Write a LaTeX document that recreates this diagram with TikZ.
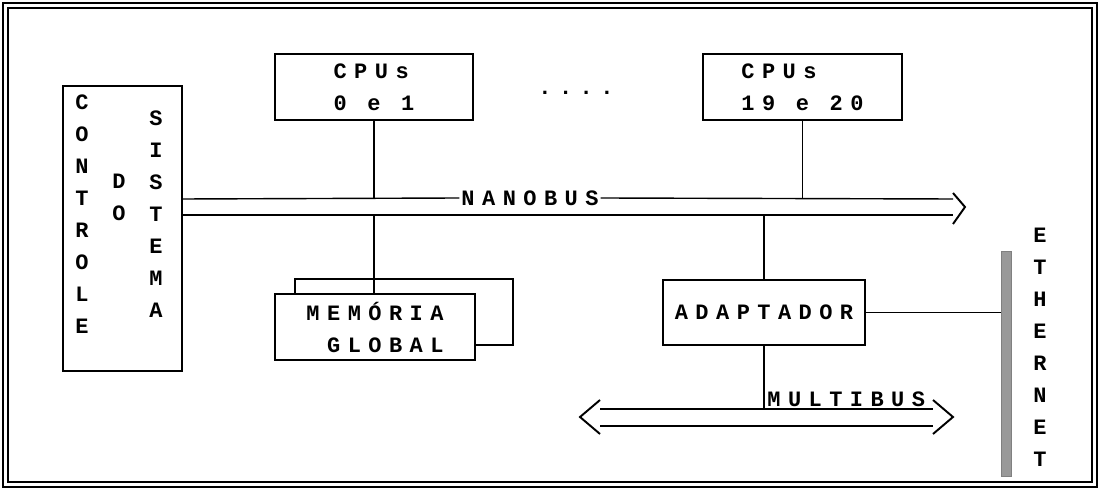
\documentclass[tikz,border=0pt]{standalone}
\usepackage{fontspec}
\newfontfamily\pixfont[LetterSpace=34]{Liberation Mono}
\newcommand\pixtext{\pixfont\bfseries\fontsize{12.5}{18.2}\selectfont}

\begin{document}
\begin{tikzpicture}[
	x=0.02cm, y=-0.02cm,
	box/.style={ draw, line width=0.8pt, fill=white, inner sep=0pt, font=\pixtext },
	column/.style={ align=center, inner sep=0pt, font=\pixtext },
	label/.style={ inner sep=0pt, font=\pixtext },
	bus/.style={ line width=0.8pt },
	chevron/.style={ line width=1.1pt, line join=miter }
]
\useasboundingbox (0,0) rectangle (1101,492);

\draw[line width=0.8pt] (3,3) rectangle (1097,487);
\draw[line width=0.8pt] (8,8) rectangle (1092,482);

\node at (122.5,228.5) (ctrl) [box, minimum width=2.38cm, minimum height=5.7cm] {};
\node at (82,214) (controle) [column] {C\\O\\N\\T\\R\\O\\L\\E};
\node at (119,197) (do) [column] {D\\O};
\node at (156,214) (sistema) [column] {S\\I\\S\\T\\E\\M\\A};

\node at (374,87) (cpuA) [box, align=left, minimum width=3.96cm, minimum height=1.32cm] {CPUs\\0 e 1};
\node at (802.5,87) (cpuB) [box, align=left, minimum width=3.98cm, minimum height=1.32cm] {CPUs\\19 e 20};
\node at (576,93) (dots) [label] {....};

\coordinate (nanoT) at (953,199);
\coordinate (nanoB) at (953,215);
\node at (530,198) (nano) [label, inner xsep=1pt] {NANOBUS};
\draw[bus] (ctrl.east |- nanoT) -- (nano.west);
\draw[bus] (nano.east) -- (nanoT);
\draw[bus] (ctrl.east |- nanoB) -- (nanoB);
\draw[chevron] (953,193) -- (965,207) -- (953,224);

\draw[bus] (cpuA.south) -- (cpuA.south |- nanoT);
\draw[bus] (cpuB.south) -- (cpuB.south |- nanoT);

\node at (404,312) (memback) [box, minimum width=4.36cm, minimum height=1.32cm] {};
\node at (375,327) (mem) [box, align=right, minimum width=4cm, minimum height=1.32cm] {MEMÓRIA\\GLOBAL};
\draw[bus] (cpuA.south |- nanoB) -- (cpuA.south |- mem.north);

\node at (764,312.5) (adapt) [box, minimum width=4.04cm, minimum height=1.3cm] {ADAPTADOR};
\draw[bus] (adapt.north |- nanoB) -- (adapt.north);

\node at (1006,363.5) (ether) [draw=gray, fill=gray!80, inner sep=0pt, minimum width=0.2cm, minimum height=4.5cm] {};
\node at (1040,347.5) (ethernet) [column] {E\\T\\H\\E\\R\\N\\E\\T};
\draw[bus] (adapt.east) -- (adapt.east -| ether.west);

\coordinate (multiTL) at (600,409);
\coordinate (multiTR) at (933,409);
\coordinate (multiBL) at (600,426);
\coordinate (multiBR) at (933,426);
\draw[bus] (multiTL) -- (multiTR);
\draw[bus] (multiBL) -- (multiBR);
\draw[chevron] (600,400) -- (580,417) -- (600,434);
\draw[chevron] (933,400) -- (953,417) -- (933,434);
\draw[bus] (adapt.south) -- (adapt.south |- multiTL);
\node at (767,407) (multi) [label, anchor=base west] {MULTIBUS};

\end{tikzpicture}
\end{document}
